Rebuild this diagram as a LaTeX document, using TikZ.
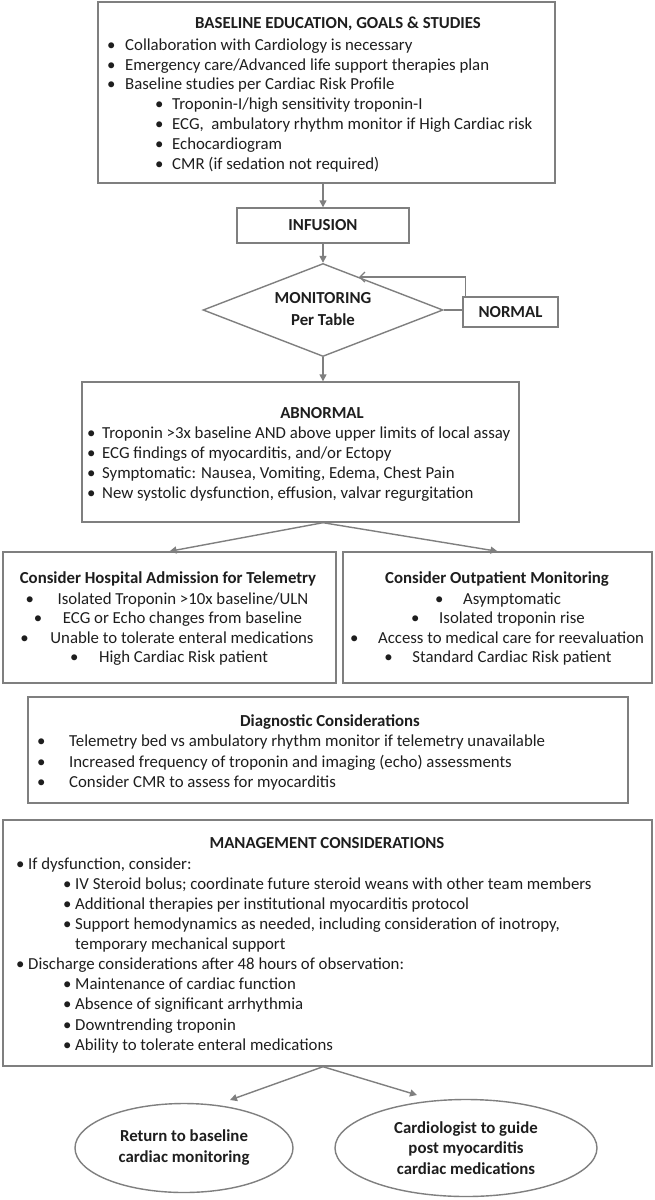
\documentclass[tikz,border=0pt]{standalone}
\usepackage{fontspec}
\setmainfont{Carlito}
\usetikzlibrary{shapes.geometric,arrows.meta}
\definecolor{bordergray}{HTML}{7F7F7F}
\definecolor{textc}{HTML}{1E1E1E}
\newcommand\fs{\fontsize{16.8}{20}\selectfont}
\newcommand\bfs{\fontsize{16.8}{20}\selectfont\bfseries}
\newcommand\bul[1]{\makebox[#1][l]{•}}
\tikzset{
  box/.style={draw=bordergray, line width=1.4pt, inner sep=0pt, text=textc},
  txt/.style={inner sep=0pt, anchor=base west, text=textc, font=\fs},
  ctxt/.style={inner sep=0pt, anchor=base, text=textc, font=\fs},
  btxt/.style={inner sep=0pt, anchor=base, text=textc, font=\bfs},
  conn/.style={draw=bordergray, line width=1.4pt},
  arr/.style={conn, -{Triangle[length=7pt,width=7pt]}},
  looparr/.style={conn, -{Straight Barb[length=5pt,width=10pt]}}
}
\begin{document}
\begin{tikzpicture}[x=1pt,y=-1pt]
\useasboundingbox (0,0) rectangle (655,1200);
\fill[white] (0,0) rectangle (655,1200);

% Baseline box
\node[box, minimum width=457pt, minimum height=181pt] (base) at (326.5,92.5) {};
\node[btxt] (baseT) at (338,28) {BASELINE EDUCATION, GOALS \& STUDIES};
\node[txt] (b1) at (107,50) {\bul{18pt}Collaboration with Cardiology is necessary};
\node[txt] (b2) at (107,70) {\bul{18pt}Emergency care/Advanced life support therapies plan};
\node[txt] (b3) at (107,89) {\bul{18pt}Baseline studies per Cardiac Risk Profile};
\node[txt] (b4) at (155,109) {\bul{17pt}Troponin-I/high sensitivity troponin-I};
\node[txt] (b5) at (155,129) {\bul{17pt}ECG,\ \ ambulatory rhythm monitor if High Cardiac risk};
\node[txt] (b6) at (155,149) {\bul{17pt}Echocardiogram};
\node[txt] (b7) at (155,169) {\bul{17pt}CMR (if sedation not required)};

% Infusion
\node[box, minimum width=172pt, minimum height=35pt, font=\bfs] (inf) at (323,225.5) {INFUSION};

% Monitoring diamond
\node[box, diamond, minimum width=240pt, minimum height=93pt] (mon) at (323,310) {};
\node[btxt] (monT1) at (323,303) {MONITORING};
\node[btxt] (monT2) at (323,325) {Per Table};

% Normal
\node[box, minimum width=95pt, minimum height=30pt, font=\bfs] (norm) at (510.5,312) {NORMAL};
\coordinate (loopEnd) at (359,277);

% Abnormal
\node[box, minimum width=437pt, minimum height=140pt] (abn) at (300.5,452) {};
\node[btxt] (abnT) at (322,418) {ABNORMAL};
\node[txt] (a1) at (87,438) {\bul{15pt}Troponin >3x baseline AND above upper limits of local assay};
\node[txt] (a2) at (87,458) {\bul{15pt}ECG findings of myocarditis, and/or Ectopy};
\node[txt] (a3) at (87,478) {\bul{15pt}Symptomatic: Nausea, Vomiting, Edema, Chest Pain};
\node[txt] (a4) at (87,498) {\bul{15pt}New systolic dysfunction, effusion, valvar regurgitation};

% Hospital admission
\node[box, minimum width=333pt, minimum height=131pt] (hosp) at (169.5,617.5) {};
\node[btxt] (hospT) at (168,583) {Consider Hospital Admission for Telemetry};
\node[ctxt] (h1) at (167,604) {\bul{32pt}Isolated Troponin >10x baseline/ULN};
\node[ctxt] (h2) at (168,623) {\bul{29pt}ECG or Echo changes from baseline};
\node[ctxt] (h3) at (167,643) {\bul{30pt}Unable to tolerate enteral medications};
\node[ctxt] (h4) at (169,662) {\bul{29pt}High Cardiac Risk patient};

% Outpatient
\node[box, minimum width=309pt, minimum height=131pt] (outp) at (497.5,617.5) {};
\node[btxt] (outT) at (497,583) {Consider Outpatient Monitoring};
\node[ctxt] (o1) at (498,604) {\bul{28pt}Asymptomatic};
\node[ctxt] (o2) at (498,623) {\bul{28pt}Isolated troponin rise};
\node[ctxt] (o3) at (497,643) {\bul{28pt}Access to medical care for reevaluation};
\node[ctxt] (o4) at (498,662) {\bul{28pt}Standard Cardiac Risk patient};

% Diagnostic
\node[box, minimum width=600pt, minimum height=106pt] (diag) at (328,750) {};
\node[btxt] (diagT) at (330,726) {Diagnostic Considerations};
\node[txt] (d1) at (37,746) {\bul{32pt}Telemetry bed vs ambulatory rhythm monitor if telemetry unavailable};
\node[txt] (d2) at (37,767) {\bul{32pt}Increased frequency of troponin and imaging (echo) assessments};
\node[txt] (d3) at (37,787) {\bul{32pt}Consider CMR to assess for myocarditis};

% Management
\node[box, minimum width=649pt, minimum height=246pt] (mgmt) at (327.5,943) {};
\node[btxt] (mgmtT) at (327,848) {MANAGEMENT CONSIDERATIONS};
\node[txt] (m1) at (16,869) {\bul{12pt}If dysfunction, consider:};
\node[txt] (m2) at (63,889) {\bul{12pt}IV Steroid bolus; coordinate future steroid weans with other team members};
\node[txt] (m3) at (63,909) {\bul{12pt}Additional therapies per institutional myocarditis protocol};
\node[txt] (m4) at (63,929) {\bul{12pt}Support hemodynamics as needed, including consideration of inotropy,};
\node[txt] (m5) at (75,949) {temporary mechanical support};
\node[txt] (m6) at (16,969) {\bul{12pt}Discharge considerations after 48 hours of observation:};
\node[txt] (m7) at (63,989) {\bul{12pt}Maintenance of cardiac function};
\node[txt] (m8) at (63,1009) {\bul{12pt}Absence of significant arrhythmia};
\node[txt] (m9) at (63,1030) {\bul{12pt}Downtrending troponin};
\node[txt] (m10) at (63,1050) {\bul{12pt}Ability to tolerate enteral medications};

% Outcomes
\node[box, ellipse, minimum width=218pt, minimum height=89pt, font=\fontsize{16.8}{21}\selectfont\bfseries, align=center] (ret) at (184,1148) {Return to baseline\\cardiac monitoring};
\node[box, ellipse, minimum width=262pt, minimum height=97pt, font=\fontsize{16.8}{20.5}\selectfont\bfseries, align=center] (card) at (466,1148) {Cardiologist to guide\\post myocarditis\\cardiac medications};
\coordinate (retTip) at (230,1100);
\coordinate (cardTip) at (417,1095);

% Connectors
\draw[arr] (base.south -| inf.north) -- (inf.north);
\draw[arr] (inf.south) -- (mon.north);
\draw[conn] (mon.east) -- (mon.east -| norm.west);
\draw[looparr] ([xshift=3pt]norm.north west) |- (loopEnd);
\draw[arr] (mon.south) -- (mon.south |- abn.north);
\draw[arr] (abn.south -| mon.south) -- (hosp.north);
\draw[arr] (abn.south -| mon.south) -- (outp.north);
\draw[arr] (mgmt.south -| mon.south) -- (retTip);
\draw[arr] (mgmt.south -| mon.south) -- (cardTip);
\end{tikzpicture}
\end{document}
